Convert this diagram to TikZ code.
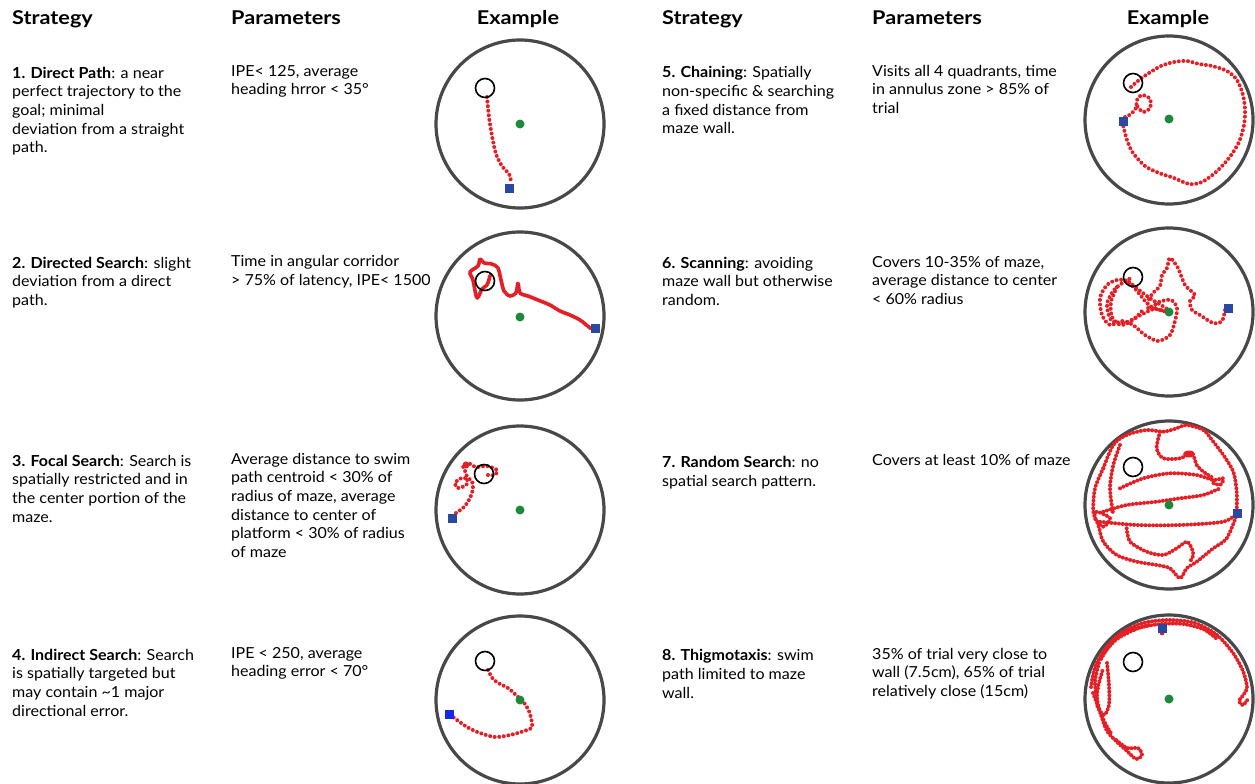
\documentclass[tikz,border=0pt]{standalone}
\usepackage{fontspec}
\setmainfont{Lato}[FakeStretch=1.055]
\newfontfamily\headfont{Lato}[FakeStretch=1.14]
\definecolor{ring}{RGB}{72,72,72}
\definecolor{track}{RGB}{228,32,38}
\definecolor{goal}{RGB}{28,138,58}
\definecolor{startblue}{RGB}{42,72,160}
\definecolor{brightblue}{RGB}{20,40,235}
\tikzset{
  maze/.style={draw=ring, line width=3.2pt},
  platform/.style={circle, draw=black, line width=1.6pt, minimum size=19pt, inner sep=0pt},
  centre/.style={circle, fill=goal, minimum size=9pt, inner sep=0pt},
  start/.style={fill=startblue, minimum size=9pt, inner sep=0pt},
  swim/.style={draw=track, line width=4pt, line cap=round, dash pattern=on 0pt off 4.6pt},
  swimdense/.style={draw=track, line width=4pt, line cap=round, line join=round, dash pattern=on 0pt off 2pt},
  head/.style={anchor=base west, inner sep=0pt, font=\headfont\fontsize{19}{22}\selectfont\bfseries},
  body/.style={anchor=north west, inner sep=0pt, align=left, font=\fontsize{15.2}{18.7}\selectfont},
}
\begin{document}
\begin{tikzpicture}[x=1pt, y=-1pt]
\useasboundingbox (0,0) rectangle (1255,784);

% ---------- column headings ----------
\node[head] (hs1) at (12,25) {Strategy};
\node[head] (hp1) at (231,25) {Parameters};
\node[head, anchor=base] (he1) at (518,25) {Example};
\node[head] (hs2) at (662,25) {Strategy};
\node[head] (hp2) at (872,25) {Parameters};
\node[head, anchor=base] (he2) at (1168,25) {Example};

% ---------- strategy descriptions ----------
\node[body] (s1) at (12,64.9) {\strut\textbf{1. Direct Path}: a near\\perfect trajectory to the\\goal; minimal\\deviation from a straight\\path.};
\node[body] (s2) at (12,254.9) {\strut\textbf{2. Directed Search}: slight\\deviation from a direct\\path.};
\node[body] (s3) at (12,452.9) {\strut\textbf{3. Focal Search}: Search is\\spatially restricted and in\\the center portion of the\\maze.};
\node[body] (s4) at (12,646.9) {\strut\textbf{4. Indirect Search}: Search\\is spatially targeted but\\may contain \textasciitilde1 major\\directional error.};
\node[body] (s5) at (662,64.6) {\strut\textbf{5. Chaining}: Spatially\\non-specific \& searching\\a fixed distance from\\maze wall.};
\node[body] (s6) at (662,254.9) {\strut\textbf{6. Scanning}: avoiding\\maze wall but otherwise\\random.};
\node[body] (s7) at (662,454.6) {\strut\textbf{7. Random Search}: no\\spatial search pattern.};
\node[body] (s8) at (662,647.6) {\strut\textbf{8. Thigmotaxis}: swim\\path limited to maze\\wall.};

% ---------- parameters ----------
\node[body] (p1) at (231,62.9) {\strut IPE< 125, average\\heading hrror < 35°};
\node[body] (p2) at (231,253.6) {\strut Time in angular corridor\\> 75\% of latency, IPE< 1500};
\node[body] (p3) at (231,450.9) {\strut Average distance to swim\\path centroid < 30\% of\\radius of maze, average\\distance to center of\\platform < 30\% of radius\\of maze};
\node[body] (p4) at (231,644.9) {\strut IPE < 250, average\\heading error < 70°};
\node[body] (p5) at (872,62.9) {\strut Visits all 4 quadrants, time\\in annulus zone > 85\% of\\trial};
\node[body] (p6) at (872,253.9) {\strut Covers 10-35\% of maze,\\average distance to center\\< 60\% radius};
\node[body] (p7) at (872,452.6) {\strut Covers at least 10\% of maze};
\node[body] (p8) at (872,645.9) {\strut 35\% of trial very close to\\wall (7.5cm), 65\% of trial\\relatively close (15cm)};

% ---------- 1. direct path ----------
\begin{scope}[shift={(520,124)}]
  \draw[maze] (0,0) circle[radius=84];
  \draw[swim] plot[smooth] coordinates {(-33,-27) (-31,-7) (-28,12) (-24,30) (-18,42) (-11,50) (-9,57)};
  \node[platform] (pl1) at (-35,-36) {};
  \node[centre] (g1) at (0,0) {};
  \node[start] (st1) at (-11,64) {};
\end{scope}

% ---------- 2. directed search ----------
\begin{scope}[shift={(520,316)}]
  \draw[maze] (0,0) circle[radius=84];
  \draw[swimdense] plot[smooth] coordinates {(70,12) (60,4) (50,-1) (40,-5) (30,-11) (18,-16) (8,-20) (0,-23) (-2,-33) (-4,-23) (-10,-20) (-16,-25) (-19,-36) (-22,-48) (-28,-52) (-36,-53) (-40,-57) (-42,-50) (-50,-44) (-47,-36) (-43,-18) (-38,-27) (-33,-31) (-30,-40)};
  \node[platform] (pl2) at (-35,-35) {};
  \node[centre] (g2) at (0,1) {};
  \node[start] (st2) at (75,12) {};
\end{scope}

% ---------- 3. focal search ----------
\begin{scope}[shift={(520,510)}]
  \draw[maze] (0,0) circle[radius=84];
  \draw[swim] plot[smooth] coordinates {(-64,3) (-56,-3) (-50,-12) (-47,-22) (-49,-30) (-58,-32) (-65,-27) (-62,-22) (-53,-26) (-54,-37) (-57,-44) (-52,-47) (-44,-43) (-33,-44) (-23,-40) (-25,-35) (-32,-35)};
  \fill[track] (-54,-45) circle[radius=3.5];
  \node[platform] (pl3) at (-36,-36) {};
  \node[centre] (g3) at (0,0) {};
  \node[start] (st3) at (-68,8) {};
\end{scope}

% ---------- 4. indirect search ----------
\begin{scope}[shift={(520,700)}]
  \draw[maze] (0,0) circle[radius=84];
  \draw[swim] plot[smooth] coordinates {(-32,-30) (-27,-21) (-20,-16) (-12,-12) (-3,-4) (5,4) (10,14) (12,27) (4,31) (-10,35) (-25,37) (-40,33) (-53,27) (-67,17)};
  \node[platform] (pl4) at (-35,-39) {};
  \node[centre] (g4) at (0,0) {};
  \node[start, fill=brightblue] (st4) at (-71,14) {};
\end{scope}

% ---------- 5. chaining ----------
\begin{scope}[shift={(1169,120)}]
  \draw[maze] (0,0) circle[radius=84];
  \draw[swim] plot[smooth] coordinates {(-38,-33) (-30,-40) (-20,-47) (-8,-54) (5,-58) (18,-59) (30,-56) (43,-54) (58,-49) (68,-40) (74,-25) (76,-10) (75,5) (70,22) (60,38) (47,52) (33,62) (20,64) (5,58) (-10,53) (-24,46) (-36,33) (-42,20) (-46,5)};
  \draw[swim] plot[smooth] coordinates {(-44,-3) (-38,-6) (-33,-12) (-32,-20) (-27,-25) (-19,-21) (-19,-12) (-26,-8) (-32,-14)};
  \node[platform] (pl5) at (-36,-37) {};
  \node[centre] (g5) at (0,-1) {};
  \node[start] (st5) at (-46,1) {};
\end{scope}

% ---------- 6. scanning ----------
\begin{scope}[shift={(1169,312)}]
  \draw[maze] (0,0) circle[radius=84];
  \draw[swim] plot[smooth] coordinates {(56,-2) (53,9) (44,11) (31,3) (23,-2) (21,-11) (26,-17) (16,-27) (9,-44) (1,-54) (-2,-44) (-7,-37) (-9,-26) (-16,-19) (-21,-11) (-20,-3) (-10,-10) (2,-12) (8,-4) (6,9) (1,23) (-11,29) (-24,23) (-36,13) (-47,9) (-59,13) (-67,3) (-69,-14) (-62,-27) (-52,-32) (-42,-31) (-32,-21) (-19,-6) (-2,0) (-15,-3) (-30,4) (-45,11) (-58,8) (-62,-8) (-55,-22) (-45,-30) (-36,-35)};
  \draw[swim] plot[smooth] coordinates {(-40,-30) (-30,-22) (-18,-13) (-8,-7) (-2,-3)};
  \draw[swim] plot[smooth] coordinates {(-52,-25) (-58,-10) (-57,5) (-48,13) (-36,8) (-26,-2)};
  \node[platform] (pl6) at (-36,-35) {};
  \node[centre] (g6) at (0,0) {};
  \node[start] (st6) at (59,-4) {};
\end{scope}

% ---------- 7. random search ----------
\begin{scope}[shift={(1169,505)}]
  \draw[maze] (0,0) circle[radius=84];
  \begin{scope}[swim, dash pattern=on 0pt off 3.8pt]
    \draw plot[smooth] coordinates {(-65.7,-36.7) (-55.7,-60) (-42.3,-70) (-22.3,-75) (-5.7,-73.3) (7.7,-76.7) (17.7,-80) (34.3,-75) (44.3,-63.3) (54.3,-50) (64.3,-33.3) (67.7,-13.3) (67.7,6.7)};
    \draw plot[smooth] coordinates {(-69,16.7) (-32.3,20) (11,20) (54.3,16.7) (67.7,8.3)};
    \draw plot[smooth] coordinates {(-65.7,6.7) (-42.3,0) (-12.3,-3.3) (11,-6.7) (34.3,-10) (51,-16.7)};
    \draw plot[smooth] coordinates {(-49,-16.7) (-25.7,-26.7) (1,-31.7) (27.7,-30) (44.3,-25) (54.3,-26.7) (51,-20) (41,-23.3)};
    \draw plot[smooth] coordinates {(-65.7,-36.7) (-74,-16.7) (-75.7,6.7) (-70.7,20) (-65.7,36.7) (-52.3,50) (-32.3,56.7) (-12.3,60) (1,63.3) (11,73.3) (17.7,63.3) (27.7,56.7) (44.3,43.3) (57.7,33.3) (67.7,10)};
    \draw plot[smooth] coordinates {(-42.3,23.3) (-39,36.7) (-22.3,46.7) (-5.7,50) (7.7,43.3) (17.7,36.7) (22.7,43.3) (24.3,50) (21,56.7)};
    \draw plot[smooth] coordinates {(-9,-73.3) (-12.3,-56.7) (-5.7,-46.7) (11,-46.7) (21,-51.7) (24.3,-50) (27.7,-40) (34.3,-33.3) (44.3,-26.7)};
    \draw plot[smooth] coordinates {(-49,-60) (-55.7,-40) (-59,-16.7) (-55.7,10)};
    \draw plot[smooth cycle] coordinates {(-72.3,6.7) (-59,13.3) (-65.7,21.7) (-74,13.3)};
  \end{scope}
  \fill[track] (20,-51) ellipse[x radius=6, y radius=3.5];
  \node[platform] (pl7) at (-36,-38) {};
  \node[centre] (g7) at (0,0) {};
  \node[start] (st7) at (68,8) {};
\end{scope}

% ---------- 8. thigmotaxis ----------
\begin{scope}[shift={(1169,699)}]
  \draw[maze] (0,0) circle[radius=84];
  \begin{scope}[swim, dash pattern=on 0pt off 3.6pt]
    \draw plot[smooth] coordinates {(-78,-12) (-74,-32) (-64,-50) (-48,-66) (-26,-76) (0,-79) (26,-76) (48,-64) (64,-46) (74,-28) (78,-12) (75,-5) (70,2) (74,6) (79,0)};
    \draw plot[smooth] coordinates {(-66,-45) (-52,-60) (-30,-71) (-8,-75) (14,-75) (34,-70) (48,-60)};
    \draw plot[smooth] coordinates {(-68,-40) (-56,-58) (-40,-68) (-20,-74)};
    \draw plot[smooth] coordinates {(-70,-36) (-74,-18) (-72,0) (-68,16) (-62,32) (-52,43) (-42,52) (-33,60) (-27,56) (-31,49) (-42,49) (-54,40)};
    \draw plot[smooth] coordinates {(-62,-36) (-60,-14) (-60,6) (-65,16) (-72,6) (-71,-12) (-66,-30)};
    \draw plot[smooth] coordinates {(-76,-6) (-70,10) (-64,24) (-58,34)};
  \end{scope}
  \fill[track] (-7,-66) circle[radius=2.4];
  \node[platform] (pl8) at (-36,-37) {};
  \node[centre] (g8) at (0,0) {};
  \node[start] (st8) at (-7,-71) {};
\end{scope}
\end{tikzpicture}
\end{document}
